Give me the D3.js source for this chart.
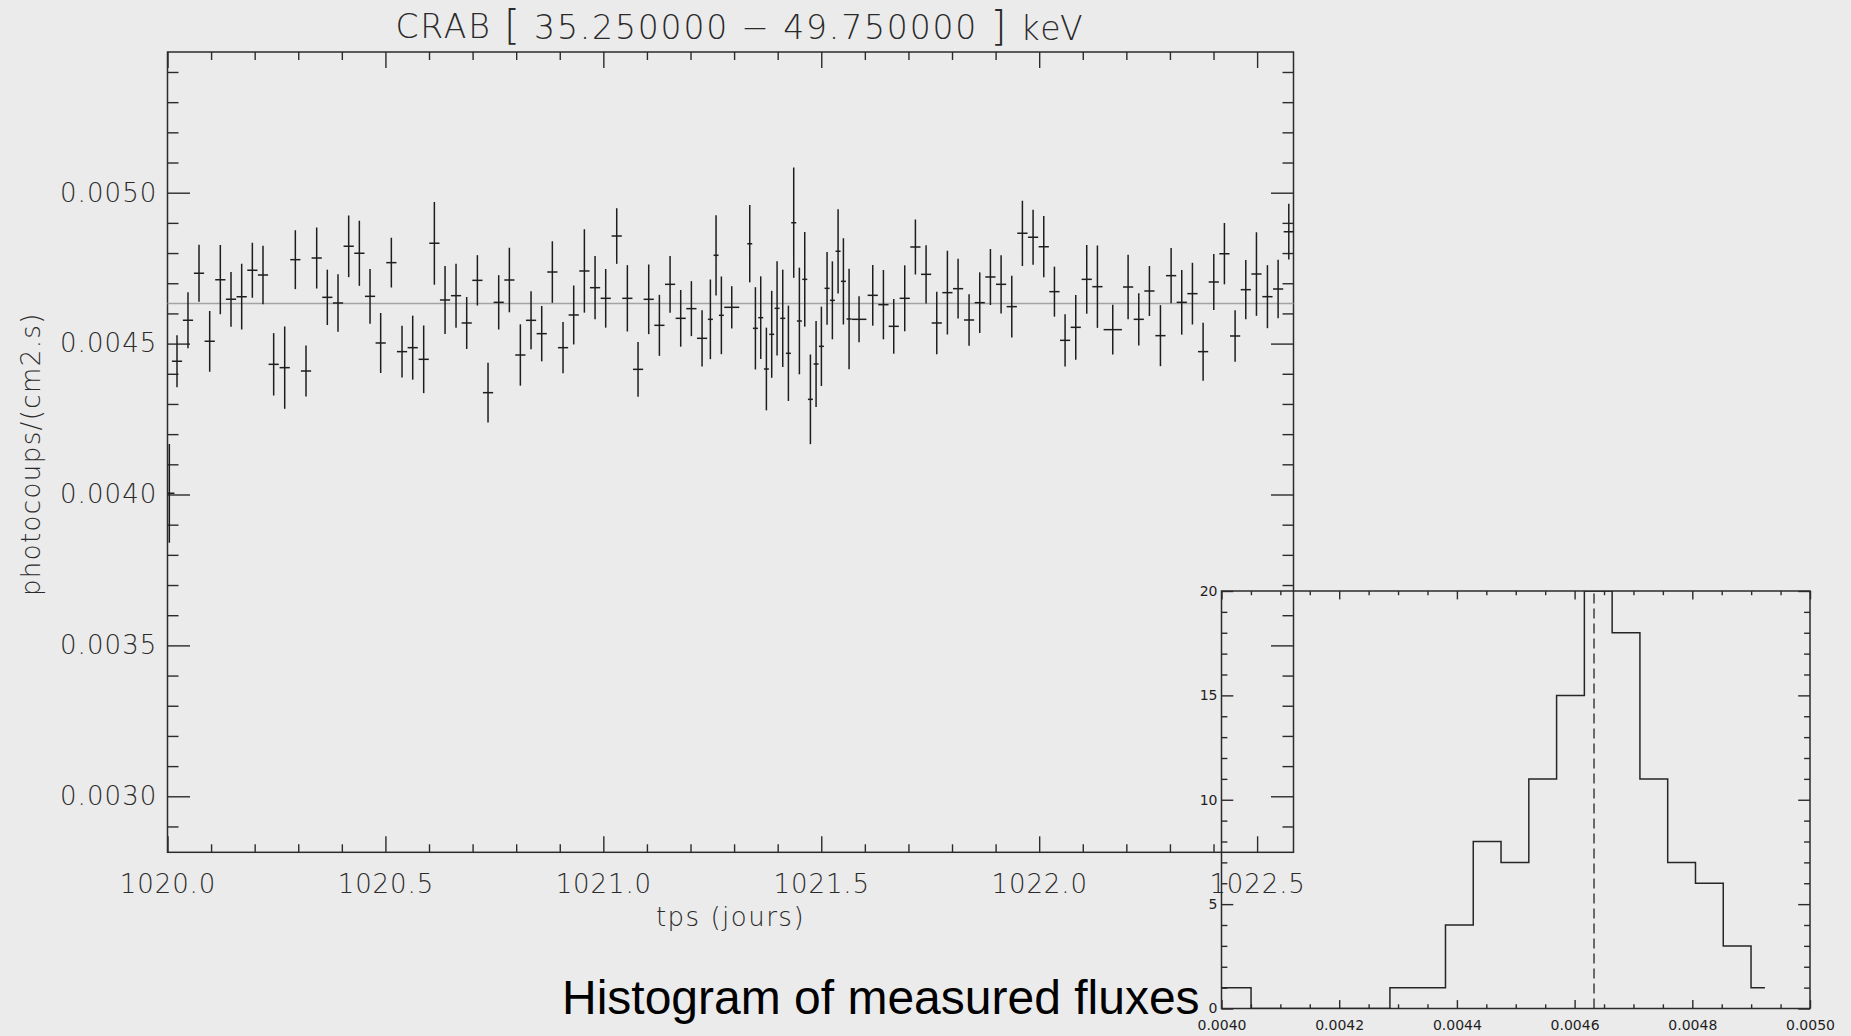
<!DOCTYPE html>
<html>
<head>
<meta charset="utf-8">
<script src="https://cdn.jsdelivr.net/npm/d3@7"></script>
<style>
  html, body { margin: 0; padding: 0; background: #ebebeb; }
  svg { display: block; }
  .lbl { font-family: "DejaVu Sans", "Lato", sans-serif; font-weight: 200; fill: #2a2a2a; }
  .small { font-family: "DejaVu Sans", "Lato", sans-serif; font-weight: 400; fill: #1e1e1e; }
</style>
</head>
<body>
<svg id="chart" width="1851" height="1036"></svg>
<script>
// Light curve: time (days), flux (photocoups/(cm2.s)) and 1-sigma errors
const timeDays = [
  1020.0042, 1020.0218, 1020.0470, 1020.0723, 1020.0968, 1020.1212, 1020.1457, 1020.1702, 1020.1947, 1020.2191,
  1020.2436, 1020.2689, 1020.2933, 1020.3178, 1020.3423, 1020.3667, 1020.3912, 1020.4157, 1020.4402, 1020.4647,
  1020.4891, 1020.5136, 1020.5381, 1020.5626, 1020.5878, 1020.6123, 1020.6368, 1020.6620, 1020.6865, 1020.7110,
  1020.7354, 1020.7599, 1020.7844, 1020.8096, 1020.8341, 1020.8586, 1020.8830, 1020.9075, 1020.9320, 1020.9565,
  1020.9810, 1021.0054, 1021.0307, 1021.0551, 1021.0796, 1021.1041, 1021.1286, 1021.1531, 1021.1775, 1021.2020,
  1021.2265, 1021.2456, 1021.2586, 1021.2708, 1021.2946, 1021.3359, 1021.3489, 1021.3611, 1021.3741, 1021.3863,
  1021.3986, 1021.4116, 1021.4246, 1021.4368, 1021.4498, 1021.4621, 1021.4751, 1021.4881, 1021.5003, 1021.5133,
  1021.5255, 1021.5386, 1021.5508, 1021.5638, 1021.5867, 1021.6181, 1021.6426, 1021.6663, 1021.6915, 1021.7160,
  1021.7405, 1021.7650, 1021.7894, 1021.8139, 1021.8391, 1021.8636, 1021.8881, 1021.9126, 1021.9371, 1021.9615,
  1021.9860, 1022.0105, 1022.0350, 1022.0594, 1022.0839, 1022.1091, 1022.1336, 1022.1688, 1022.2040, 1022.2285,
  1022.2529, 1022.2782, 1022.3027, 1022.3271, 1022.3516, 1022.3761, 1022.4006, 1022.4250, 1022.4495, 1022.4740,
  1022.4985, 1022.5237, 1022.5482, 1022.5727
];
const timeErr = [
  0.0117, 0.0117, 0.0117, 0.0117, 0.0117, 0.0117, 0.0117, 0.0117, 0.0117, 0.0117,
  0.0117, 0.0117, 0.0117, 0.0117, 0.0117, 0.0117, 0.0117, 0.0117, 0.0117, 0.0117,
  0.0117, 0.0117, 0.0117, 0.0117, 0.0117, 0.0117, 0.0117, 0.0117, 0.0117, 0.0117,
  0.0117, 0.0117, 0.0117, 0.0117, 0.0117, 0.0117, 0.0117, 0.0117, 0.0117, 0.0117,
  0.0117, 0.0117, 0.0117, 0.0117, 0.0117, 0.0117, 0.0117, 0.0117, 0.0117, 0.0117,
  0.0117, 0.0057, 0.0057, 0.0057, 0.0172, 0.0057, 0.0057, 0.0057, 0.0057, 0.0057,
  0.0057, 0.0057, 0.0057, 0.0057, 0.0057, 0.0057, 0.0057, 0.0057, 0.0057, 0.0057,
  0.0057, 0.0057, 0.0057, 0.0057, 0.0168, 0.0117, 0.0117, 0.0117, 0.0117, 0.0117,
  0.0117, 0.0117, 0.0117, 0.0117, 0.0117, 0.0117, 0.0117, 0.0117, 0.0117, 0.0117,
  0.0117, 0.0117, 0.0117, 0.0117, 0.0117, 0.0117, 0.0117, 0.0210, 0.0117, 0.0117,
  0.0117, 0.0117, 0.0117, 0.0117, 0.0117, 0.0117, 0.0117, 0.0117, 0.0117, 0.0117,
  0.0117, 0.0117, 0.0117, 0.0117
];
const flux = [
  0.0040039, 0.0044412, 0.0045771, 0.0047328, 0.0045075, 0.0047118, 0.0046467, 0.0046555, 0.0047428, 0.0047273,
  0.0044313, 0.0044203, 0.0047781, 0.0044092, 0.0047836, 0.0046533, 0.0046345, 0.0048223, 0.0047991, 0.0046566,
  0.0045020, 0.0047682, 0.0044733, 0.0044865, 0.0044479, 0.0048322, 0.0046445, 0.0046588, 0.0045683, 0.0047096,
  0.0043374, 0.0046367, 0.0047107, 0.0044622, 0.0045771, 0.0045329, 0.0047372, 0.0044865, 0.0045948, 0.0047406,
  0.0046853, 0.0046500, 0.0048565, 0.0046500, 0.0044147, 0.0046467, 0.0045605, 0.0046964, 0.0045837, 0.0046158,
  0.0045175, 0.0045804, 0.0047925, 0.0045937, 0.0046202, 0.0048311, 0.0045506, 0.0045859, 0.0044158, 0.0045307,
  0.0046169, 0.0045837, 0.0044678, 0.0049007, 0.0045749, 0.0047129, 0.0043153, 0.0044324, 0.0044909, 0.0046831,
  0.0046434, 0.0048057, 0.0047063, 0.0045815, 0.0045804, 0.0046599, 0.0046290, 0.0045572, 0.0046500, 0.0048201,
  0.0047295, 0.0045683, 0.0046688, 0.0046820, 0.0045782, 0.0046356, 0.0047207, 0.0046964, 0.0046224, 0.0048654,
  0.0048521, 0.0048212, 0.0046721, 0.0045108, 0.0045539, 0.0047129, 0.0046886, 0.0045462, 0.0046875, 0.0045804,
  0.0046743, 0.0045263, 0.0047251, 0.0046367, 0.0046655, 0.0044733, 0.0047041, 0.0047980, 0.0045252, 0.0046787,
  0.0047306, 0.0046555, 0.0046809, 0.0048709
];
const fluxErr = [
  0.0001635, 0.0000861, 0.0000928, 0.0000944, 0.0001005, 0.0001149, 0.0000906, 0.0001088, 0.0000911, 0.0000966,
  0.0001033, 0.0001364, 0.0000977, 0.0000845, 0.0001011, 0.0000917, 0.0000955, 0.0001022, 0.0001077, 0.0000906,
  0.0000994, 0.0000823, 0.0000856, 0.0001060, 0.0001121, 0.0001370, 0.0001127, 0.0001060, 0.0000861, 0.0000834,
  0.0000989, 0.0000900, 0.0001071, 0.0001016, 0.0000961, 0.0000917, 0.0001022, 0.0000850, 0.0000977, 0.0001381,
  0.0001049, 0.0000972, 0.0000922, 0.0001099, 0.0000906, 0.0001154, 0.0001011, 0.0000939, 0.0000939, 0.0000911,
  0.0000933, 0.0001320, 0.0001331, 0.0001287, 0.0000701, 0.0001281, 0.0001364, 0.0001370, 0.0001370, 0.0001441,
  0.0001563, 0.0001613, 0.0001579, 0.0001828, 0.0001767, 0.0001568, 0.0001486, 0.0001425, 0.0001314, 0.0001204,
  0.0001292, 0.0001397, 0.0001430, 0.0001662, 0.0000762, 0.0001005, 0.0001149, 0.0000906, 0.0001093, 0.0000911,
  0.0000966, 0.0001038, 0.0001386, 0.0000989, 0.0000856, 0.0001005, 0.0000928, 0.0000966, 0.0001022, 0.0001082,
  0.0000911, 0.0001016, 0.0000828, 0.0000867, 0.0001071, 0.0001138, 0.0001364, 0.0000823, 0.0001066, 0.0000867,
  0.0000828, 0.0001011, 0.0000917, 0.0001071, 0.0001022, 0.0000961, 0.0000928, 0.0001016, 0.0000856, 0.0000983,
  0.0001386, 0.0001044, 0.0000966, 0.0000922
];
const meanFlux = 0.004633;

// Histogram of the fluxes above: first bin edge, bin width, counts per bin
const histStart = 0.004003;
const histBinWidth = 0.0000472;
const histCounts = [1, 0, 0, 0, 0, 0, 1, 1, 4, 8, 7, 11, 15, 20, 18, 11, 7, 6, 3, 1];

// Tick labels
const mainXTicks = [1020.0, 1020.5, 1021.0, 1021.5, 1022.0, 1022.5];
const mainYTicks = [0.0030, 0.0035, 0.0040, 0.0045, 0.0050];
const histXTicks = [0.0040, 0.0042, 0.0044, 0.0046, 0.0048, 0.0050];
const histYTicks = [0, 5, 10, 15, 20];

// Title pieces: source, energy band limits, unit
const titleParts = ["CRAB ", "[", " 35.250000 \u2212 49.750000 ", "]", " keV"];
const xTitle = "tps (jours)";
const yTitle = "photocoups/(cm2.s)";
const histCaption = "Histogram of measured fluxes";

const svg = d3.select("#chart");
const ink = "#2b2b2b";

// ---------- main light-curve panel ----------
const M = { left: 167.5, right: 1293.5, top: 52, bottom: 852.3 };
const x = d3.scaleLinear().domain([1020.0, 1022.5835]).range([M.left, M.right]);
const y = d3.scaleLinear().domain([0.0028144, 0.0054662]).range([M.bottom, M.top]);
const mW = M.right - M.left, mH = M.bottom - M.top;

svg.append("clipPath").attr("id", "clipMain")
  .append("rect").attr("x", M.left).attr("y", M.top).attr("width", mW).attr("height", mH);

function styleAxis(g) {
  g.select(".domain").remove();
  g.selectAll(".tick line").attr("stroke", ink).attr("stroke-width", 1.4);
  g.selectAll("text").attr("class", "lbl");
}

const xMinor = d3.range(1020.1, 1022.55, 0.1).filter(v => Math.abs(v * 2 - Math.round(v * 2)) > 1e-6);
const yMinor = d3.range(0.0029, 0.00545, 0.0001).filter(v => Math.abs(v / 0.0005 - Math.round(v / 0.0005)) > 1e-6);

// bottom + top
svg.append("g").attr("transform", `translate(0,${M.bottom})`)
  .call(d3.axisBottom(x).tickValues(mainXTicks).tickFormat(d3.format(".1f")).tickSizeInner(-16).tickSizeOuter(0).tickPadding(22))
  .call(styleAxis).call(g => g.selectAll("text").style("font-size", "26px").style("letter-spacing", "0.9px"));
svg.append("g").attr("transform", `translate(0,${M.bottom})`)
  .call(d3.axisBottom(x).tickValues(xMinor).tickFormat("").tickSizeInner(-8).tickSizeOuter(0)).call(styleAxis);
svg.append("g").attr("transform", `translate(0,${M.top})`)
  .call(d3.axisTop(x).tickValues(mainXTicks).tickFormat("").tickSizeInner(-16).tickSizeOuter(0)).call(styleAxis);
svg.append("g").attr("transform", `translate(0,${M.top})`)
  .call(d3.axisTop(x).tickValues(xMinor).tickFormat("").tickSizeInner(-8).tickSizeOuter(0)).call(styleAxis);

// left + right
svg.append("g").attr("transform", `translate(${M.left},0)`)
  .call(d3.axisLeft(y).tickValues(mainYTicks).tickFormat(d3.format(".4f")).tickSizeInner(-22.5).tickSizeOuter(0).tickPadding(10))
  .call(styleAxis).call(g => g.selectAll("text").style("font-size", "26px").style("letter-spacing", "1.1px"));
svg.append("g").attr("transform", `translate(${M.left},0)`)
  .call(d3.axisLeft(y).tickValues(yMinor).tickFormat("").tickSizeInner(-11).tickSizeOuter(0)).call(styleAxis);
svg.append("g").attr("transform", `translate(${M.right},0)`)
  .call(d3.axisRight(y).tickValues(mainYTicks).tickFormat("").tickSizeInner(-22.5).tickSizeOuter(0)).call(styleAxis);
svg.append("g").attr("transform", `translate(${M.right},0)`)
  .call(d3.axisRight(y).tickValues(yMinor).tickFormat("").tickSizeInner(-11).tickSizeOuter(0)).call(styleAxis);

svg.append("rect").attr("x", M.left).attr("y", M.top).attr("width", mW).attr("height", mH)
  .attr("fill", "none").attr("stroke", ink).attr("stroke-width", 1.5);

// mean flux level
svg.append("line").attr("x1", M.left).attr("x2", M.right)
  .attr("y1", y(meanFlux)).attr("y2", y(meanFlux))
  .attr("stroke", "#a3a3a3").attr("stroke-width", 1.5);

// error-bar crosses
const points = timeDays.map((t, i) => ({ t, f: flux[i], df: fluxErr[i], dt: timeErr[i] }));
const bars = svg.append("g").attr("clip-path", "url(#clipMain)")
  .attr("stroke", "#1e1e1e").attr("stroke-width", 1.5);
bars.selectAll("line.v").data(points).join("line").attr("class", "v")
  .attr("x1", d => x(d.t)).attr("x2", d => x(d.t))
  .attr("y1", d => y(d.f + d.df)).attr("y2", d => y(d.f - d.df));
bars.selectAll("line.h").data(points).join("line").attr("class", "h")
  .attr("x1", d => x(d.t - d.dt)).attr("x2", d => x(d.t + d.dt))
  .attr("y1", d => y(d.f)).attr("y2", d => y(d.f));

// titles
const title = svg.append("text").attr("class", "lbl").attr("x", 739).attr("y", 37.5)
  .attr("text-anchor", "middle").attr("textLength", 687).attr("lengthAdjust", "spacing")
  .style("font-size", "33px");
title.selectAll("tspan").data(titleParts).join("tspan")
  .style("font-size", d => (d === "[" || d === "]") ? "41px" : null)
  .attr("dy", d => (d === "[" || d === "]") ? 1 : 0)
  .text(d => d);
svg.append("text").attr("class", "lbl").attr("x", (M.left + M.right) / 2).attr("y", 926)
  .attr("text-anchor", "middle").style("font-size", "26px").style("letter-spacing", "1.5px").text(xTitle);
svg.append("text").attr("class", "lbl")
  .attr("transform", `translate(40,${(M.top + M.bottom) / 2 + 2}) rotate(-90)`)
  .attr("text-anchor", "middle").style("font-size", "26px").style("letter-spacing", "1.4px").text(yTitle);

// ---------- histogram inset ----------
const H = { left: 1221.5, right: 1810, top: 591, bottom: 1008.5 };
const hx = d3.scaleLinear().domain([0.0040, 0.0050]).range([H.left, H.right]);
const hy = d3.scaleLinear().domain([0, 20]).range([H.bottom, H.top]);
const hW = H.right - H.left, hH = H.bottom - H.top;

svg.append("clipPath").attr("id", "clipHist")
  .append("rect").attr("x", H.left).attr("y", H.top).attr("width", hW).attr("height", hH);

const hxMinor = d3.range(0.00405, 0.005, 0.00005).filter(v => Math.abs(v / 0.0002 - Math.round(v / 0.0002)) > 1e-6);
const hyMinor = d3.range(1, 20, 1).filter(v => v % 5 !== 0);

function smallLabels(g) {
  g.selectAll("text").attr("class", "small").style("font-size", "14px");
}

svg.append("g").attr("transform", `translate(0,${H.bottom})`)
  .call(d3.axisBottom(hx).tickValues(histXTicks).tickFormat(d3.format(".4f")).tickSizeInner(-8.4).tickSizeOuter(0).tickPadding(12))
  .call(styleAxis).call(smallLabels);
svg.append("g").attr("transform", `translate(0,${H.bottom})`)
  .call(d3.axisBottom(hx).tickValues(hxMinor).tickFormat("").tickSizeInner(-4.2).tickSizeOuter(0)).call(styleAxis);
svg.append("g").attr("transform", `translate(0,${H.top})`)
  .call(d3.axisTop(hx).tickValues(histXTicks).tickFormat("").tickSizeInner(-8.4).tickSizeOuter(0)).call(styleAxis);
svg.append("g").attr("transform", `translate(0,${H.top})`)
  .call(d3.axisTop(hx).tickValues(hxMinor).tickFormat("").tickSizeInner(-4.2).tickSizeOuter(0)).call(styleAxis);
svg.append("g").attr("transform", `translate(${H.left},0)`)
  .call(d3.axisLeft(hy).tickValues(histYTicks).tickFormat(d3.format("d")).tickSizeInner(-11.8).tickSizeOuter(0).tickPadding(4))
  .call(styleAxis).call(smallLabels);
svg.append("g").attr("transform", `translate(${H.left},0)`)
  .call(d3.axisLeft(hy).tickValues(hyMinor).tickFormat("").tickSizeInner(-5.9).tickSizeOuter(0)).call(styleAxis);
svg.append("g").attr("transform", `translate(${H.right},0)`)
  .call(d3.axisRight(hy).tickValues(histYTicks).tickFormat("").tickSizeInner(-11.8).tickSizeOuter(0)).call(styleAxis);
svg.append("g").attr("transform", `translate(${H.right},0)`)
  .call(d3.axisRight(hy).tickValues(hyMinor).tickFormat("").tickSizeInner(-5.9).tickSizeOuter(0)).call(styleAxis);

svg.append("rect").attr("x", H.left).attr("y", H.top).attr("width", hW).attr("height", hH)
  .attr("fill", "none").attr("stroke", ink).attr("stroke-width", 1.5);

// step outline: the last bin stops at its centre (histogram-mode plotting)
const n = histCounts.length;
let stepPath = "";
histCounts.forEach((c, i) => {
  const left = i === 0 ? histStart - histBinWidth / 2 : histStart + i * histBinWidth;
  const right = i === n - 1 ? histStart + (i + 0.5) * histBinWidth : histStart + (i + 1) * histBinWidth;
  stepPath += (i === 0 ? `M${hx(left)},${hy(c)}` : `V${hy(c)}`) + `H${hx(right)}`;
});
svg.append("path").attr("d", stepPath).attr("clip-path", "url(#clipHist)")
  .attr("fill", "none").attr("stroke", "#262626").attr("stroke-width", 1.5);

// mean flux marker
svg.append("line").attr("x1", hx(meanFlux)).attr("x2", hx(meanFlux))
  .attr("y1", hy(0)).attr("y2", hy(20))
  .attr("stroke", "#333").attr("stroke-width", 1.4).attr("stroke-dasharray", "10,5");

svg.append("text").attr("x", 562).attr("y", 1014)
  .style("font-family", "'Liberation Sans', Arial, sans-serif").style("font-size", "48px").attr("fill", "#000")
  .text(histCaption);
</script>
</body>
</html>
